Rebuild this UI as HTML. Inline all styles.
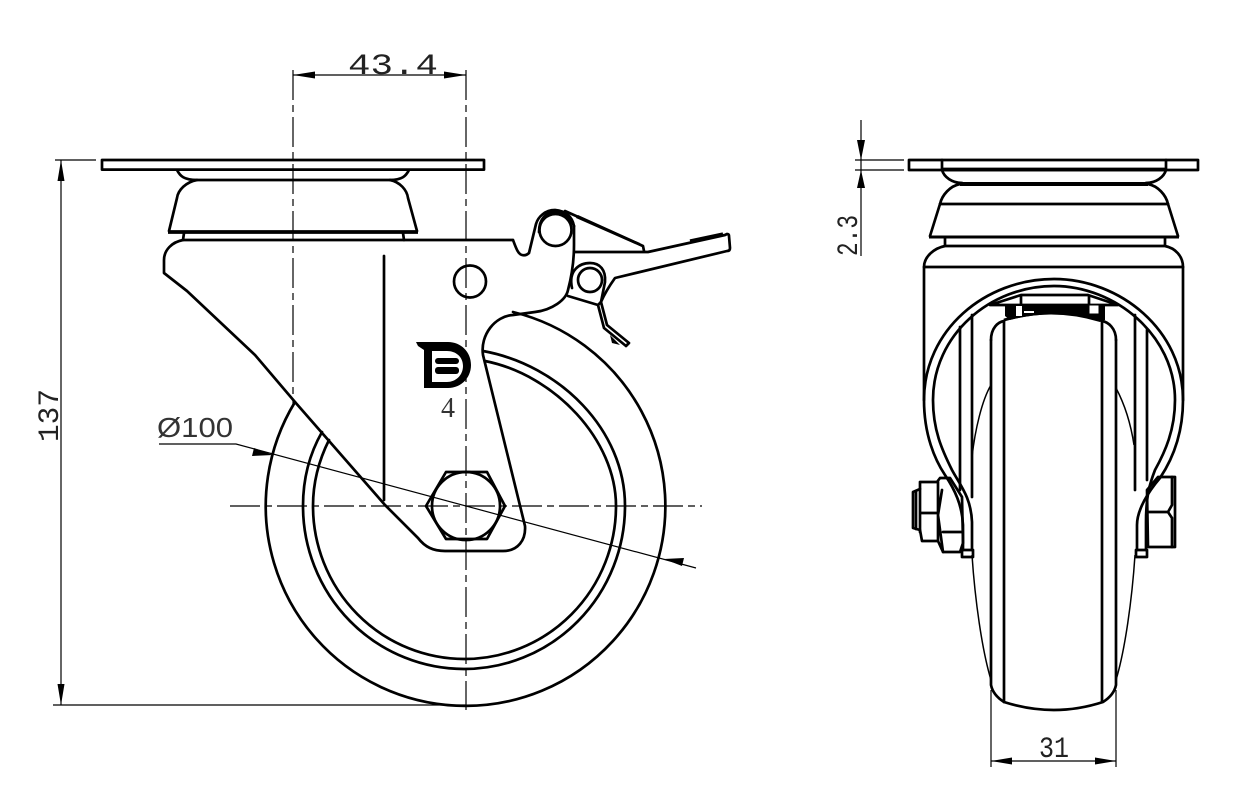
<!DOCTYPE html>
<html><head><meta charset="utf-8"><style>
html,body{margin:0;padding:0;background:#fff}
svg{display:block}
.m{fill:none;stroke:#000;stroke-width:2.7;stroke-linejoin:round;stroke-linecap:round}
.h{fill:none;stroke:#000;stroke-width:3.8}
.t{fill:none;stroke:#000;stroke-width:1.2}
.c{fill:none;stroke:#000;stroke-width:1.2;stroke-dasharray:30 5 7 5}
.a{fill:#000;stroke:none}
text{font-family:"Liberation Mono",monospace;font-size:30px;fill:#222}
</style></head><body>
<svg width="1248" height="811" viewBox="0 0 1248 811" xmlns="http://www.w3.org/2000/svg">
<!-- LEFT VIEW: wheel -->
<path class="m" d="M295,402 A199.800,199.800 0 1 0 513,312"/>
<path class="m" d="M483,351 C560,365 625,430 625,506 A161,163 0 0 1 303,506 C303,478 310,453 322,432"/>
<path class="m" d="M485,361 C555,375 616,440 616,506 A151.500,153 0 0 1 313,506 C313,482 319,460 329,440"/>
<!-- plate & swivel -->
<rect class="m" x="102" y="160" width="382" height="9.600"/>
<path class="m" d="M177,170 C180,176 184,180 197,180 L390,180 C402,180 406,176 409,170"/>
<path class="m" d="M197,180 C186,182 178,190 177,198 L169,231 M390,180 C400,182 407,190 408,198 L417,231"/>
<path class="h" d="M168,232 H418"/>
<path class="m" d="M184,233 L183,240 M403,233 L404,240"/>
<!-- fork -->
<path class="m" d="M513,240 H183 C172,242 164,250 164,260 V273 L187,291 L255,355 L295,402 L385,505 L418,538 C425,547 433,551 445,551 H503 C518,551 526,540 525,526 L483,355 C480,335 495,316 513,315 L535,312 C552,310 566,300 568,290 C572,275 574,262 574,245 L574,226 C572,216 565,211 555,210 C545,210 538,217 536,224 L529,253 Q526,256 522,255 C518,254 516,248 513,240"/>
<path class="m" d="M384,256 V500"/>
<circle class="m" cx="470" cy="281.500" r="16"/>
<circle class="m" cx="555.500" cy="230" r="16"/>
<path class="m" d="M539,232 C539,218 547,212 555,212 C563,212 570,216 574,226"/>
<!-- pedal -->
<path class="m" d="M565,211 L643,246 L644,251"/>
<path class="m" d="M574,252 H648 L725,235 L727,234 Q729,234 729,236 L730,248 Q730,251 727,251 L615,278 C610,285 604,295 601,302"/>
<circle class="m" cx="590" cy="280" r="12"/>
<path class="m" d="M572,288 C568,270 580,263 590,263 C600,263 606,270 605,282 L601,302"/>
<path class="m" d="M568,296 L598,305 L601,302"/>
<path class="m" d="M601,302 L607,325 L629,343 M598,305 L604,328 L626,346 M629,343 L626,346"/>
<path class="a" d="M610,335 L620,345 L612,343 Z"/>
<path class="a" d="M578,215 L640,243 L642,247 L576,218 Z"/>
<path class="h" d="M690,241 L723,234" style="stroke-width:3.400"/>
<!-- hex nut -->
<path class="m" d="M446,472 H487 L505,506 L487,539 H446 L426,506 Z"/>
<circle class="m" cx="466" cy="506" r="34"/>
<!-- logo -->
<path class="a" fill-rule="evenodd" d="M416,342 H448 C461,342 471,352 471,365 C471,378 461,388 448,388 H424 V350 L418,346 Z M432,351 V382 H447 C456,382 463,375 463,366 C463,357 456,351 447,351 Z"/>
<rect class="a" x="435" y="358" width="24" height="6" rx="3"/>
<rect class="a" x="435" y="367" width="24" height="7" rx="3"/>
<text x="441" y="417" style="font-family:'Liberation Serif',serif;font-size:28px;fill:#333">4</text>
<!-- centre lines -->
<path class="c" d="M230,506 H702"/>
<path class="c" d="M293,70 V405"/>
<path class="c" d="M466,70 V710"/>
<!-- dim 43.4 -->
<path class="t" d="M293,75 H466"/>
<path class="a" d="M293,75 L315,71.500 V78.500 Z M466,75 L444,71.500 V78.500 Z"/>
<text x="348" y="74" textLength="90" lengthAdjust="spacingAndGlyphs">43.4</text>
<!-- dim 137 -->
<path class="t" d="M55,160 H96 M53,705 H466 M61,160 V705"/>
<path class="a" d="M61,160 L57.500,181 H64.500 Z M61,705 L57.500,684 H64.500 Z"/>
<text transform="translate(58,442) rotate(-90)" x="0" y="0" textLength="53" lengthAdjust="spacingAndGlyphs">137</text>
<!-- dim 100 -->
<text x="157" y="437" textLength="76" lengthAdjust="spacingAndGlyphs" style="font-family:'Liberation Sans',sans-serif;font-size:28px;fill:#333">Ø100</text>
<path class="t" d="M159,444 H236 L696,568"/>
<path class="a" d="M273,455 L252,456 L254,448 Z M664,559 L684,558 L682,566 Z"/>
<!-- RIGHT VIEW -->
<rect class="m" x="909" y="160" width="289" height="10"/>
<path class="m" d="M942,160 V170 M1166,160 V170"/>
<path class="h" d="M942,169.500 H1166"/>
<path class="m" d="M942,170 C944,177 952,183 962,183 M1166,170 C1164,177 1156,183 1146,183"/>
<path class="h" d="M960,184 H1148" style="stroke-width:4"/>
<path class="m" d="M960,184 C950,186 942,195 940,204 L930,236 M1148,184 C1158,186 1166,195 1168,204 L1178,236"/>
<path class="m" d="M940,204 H1168"/>
<path class="h" d="M929,237 H1179" style="stroke-width:3"/>
<path class="m" d="M945,238 V245 M1165,238 V245"/>
<path class="m" d="M945,246 H1165 C1175,248 1183,256 1183,267 V400 M945,246 C935,248 924,256 924,267 V400"/>
<path class="m" d="M924,267 H1183"/>
<!-- wheel -->
<path class="m" d="M991,340 V685 Q993,695 1004,702 Q1054,718 1103,702 Q1114,695 1116,685 V340"/>
<path class="m" d="M1004,321 V702 M1102,321 V702"/>
<path class="m" d="M991,340 C991,328 998,322 1004,321 M1116,340 C1116,328 1108,322 1102,321"/>
<path class="h" d="M1004,320 Q1054,306 1102,320" style="stroke-width:2.800"/>
<path class="t" d="M991,385 C982,400 975,430 972,457 M1116,388 C1125,405 1131,425 1134,445 M972,555 C975,600 982,650 991,680 M1135,555 C1132,600 1125,650 1116,680" style="stroke-width:1.500"/>
<!-- top hub detail -->
<path class="m" d="M990,305 L1021,295 H1088 L1118,305 H990 Z"/>
<path class="m" d="M1021,296 V305 M1089,296 V305"/>
<path class="a" d="M1005,305 H1105 V320 L1100,322 Q1054,308 1010,320 L1005,316 Z"/>
<rect x="1089" y="305" width="10" height="9" fill="#fff" stroke="#000" stroke-width="1"/>
<rect x="1016" y="306" width="6" height="10" fill="#fff"/>
<rect x="1024" y="311" width="10" height="2" fill="#fff"/>
<!-- fork verticals -->
<path class="m" d="M960,327 V490 M972,315 V497 M1135,315 V490 M1147,330 V480"/>
<!-- nuts -->
<path class="m" d="M913,492 L920,489 V482 H937 L940,478 L950,478 L962,497 L963,543 L960,552 H943 L938,541 H922 L920,530 L913,528 Z" style="fill:#fff"/>
<path class="m" d="M920,489 V532 M916,491 V529 M920,513 H938 M938,482 V541 M943,532 H962 M942,490 L938,515 L943,552"/>
<path class="m" d="M1147,490 L1158,477 H1175 V547 H1148 Z" style="fill:#fff"/>
<path class="m" d="M1148,512 H1168 L1172,518 M1168,512 L1172,505 V477 M1172,518 V547"/>
<!-- strap arch -->
<path class="m" d="M963,550 V525 C962,505 955,490 945,475 C935,460 924,435 924,400 C924,330 985,279 1054,279 C1120,279 1183,330 1183,400 C1183,435 1172,460 1160,478 C1148,492 1137,510 1137,525 V550"/>
<path class="m" d="M972,550 V522 C971,497 960,485 952,470 C942,450 933,430 933,400 C933,335 990,286 1054,286 C1115,286 1175,335 1175,400 C1175,430 1165,452 1155,470 C1150,483 1146,495 1146,522 V550"/>
<rect class="m" x="962" y="550" width="11" height="7"/>
<rect class="m" x="1136" y="550" width="11" height="7"/>
<!-- dim 2.3 -->
<path class="t" d="M861,120 V256 M855,160 H904 M855,170 H904"/>
<path class="a" d="M861,160 L857,140 H865 Z M861,170 L857,188 H865 Z"/>
<text transform="translate(857,256) rotate(-90)" x="0" y="0" textLength="41" lengthAdjust="spacingAndGlyphs">2.3</text>
<!-- dim 31 -->
<path class="t" d="M991,690 V767 M1116,690 V767 M991,761 H1116"/>
<path class="a" d="M991,761 L1012,757.500 V764.500 Z M1116,761 L1095,757.500 V764.500 Z"/>
<text x="1039" y="757" textLength="30" lengthAdjust="spacingAndGlyphs">31</text>
</svg>
</body></html>
